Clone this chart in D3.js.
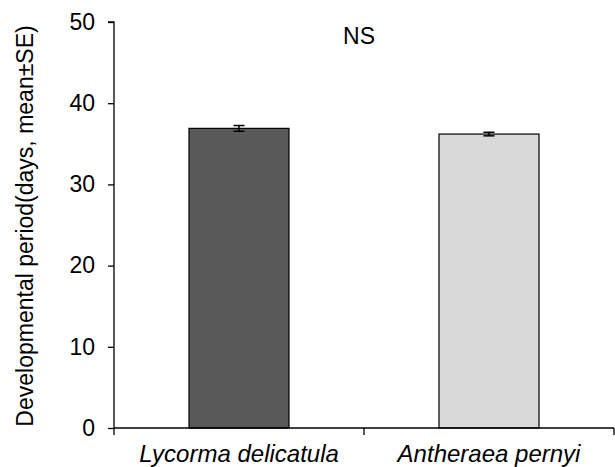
<!DOCTYPE html>
<html><head><meta charset="utf-8">
<script src="https://cdn.jsdelivr.net/npm/d3@7"></script>
<style>body{margin:0;background:#fff}svg{display:block}text{font-family:"Liberation Sans",Arial,sans-serif;fill:#000}</style>
</head><body>
<svg id="c" width="615" height="467"></svg>
<script>
const categories = ["Lycorma delicatula", "Antheraea pernyi"];
const means = [36.9, 36.2];
const se = [0.35, 0.22];
const fills = ["#595959", "#d9d9d9"];
const yTicks = [0, 10, 20, 30, 40, 50];
const yTitle = "Developmental period(days, mean±SE)";
const note = "NS";

const svg = d3.select("#c");
const x0 = 114, x1 = 614, yTop = 22, yBot = 428;
const x = d3.scaleBand().domain(categories).range([x0, x1]).padding(0);
const y = d3.scaleLinear().domain([0, 50]).range([yBot, yTop]);
const fs = 23;

// y axis
const ya = svg.append("g").attr("transform", `translate(${x0},0)`)
  .call(d3.axisLeft(y).tickValues(yTicks).tickSize(6).tickPadding(13).tickFormat(d3.format("d")));
ya.select(".domain").attr("stroke", "#000").attr("stroke-width", 1.3).attr("d", `M-6,${yTop}H0V${yBot}`);
ya.selectAll(".tick line").attr("stroke", "#000").attr("stroke-width", 1.3);
ya.selectAll(".tick text").style("font-size", fs + "px").attr("font-family", "Liberation Sans, Arial, sans-serif");

// bars
const bw = x.bandwidth() * 0.4;
svg.append("g").selectAll("rect").data(categories).join("rect")
  .attr("x", d => x(d) + x.bandwidth() / 2 - bw / 2)
  .attr("width", bw)
  .attr("y", (d, i) => y(means[i]))
  .attr("height", (d, i) => y(0) - y(means[i]))
  .attr("fill", (d, i) => fills[i])
  .attr("stroke", "#000").attr("stroke-width", 1.2);

// error bars
const eb = svg.append("g").attr("stroke", "#000").attr("stroke-width", 1.5);
categories.forEach((c, i) => {
  const cx = x(c) + x.bandwidth() / 2;
  const hi = y(means[i] + se[i]), lo = y(means[i] - se[i]);
  eb.append("line").attr("x1", cx).attr("x2", cx).attr("y1", hi).attr("y2", lo);
  eb.append("line").attr("x1", cx - 5.5).attr("x2", cx + 5.5).attr("y1", hi).attr("y2", hi);
  eb.append("line").attr("x1", cx - 5.5).attr("x2", cx + 5.5).attr("y1", lo).attr("y2", lo);
});

// x axis
const xa = svg.append("g").attr("transform", `translate(0,${yBot})`)
  .call(d3.axisBottom(x).tickSize(0).tickPadding(0));
xa.select(".domain").attr("stroke", "#000").attr("stroke-width", 1.3).attr("d", `M${x0},0H${x1}`);
xa.selectAll(".tick text").attr("y", 33.5).attr("dy", null).style("font-size", "24px").style("font-style", "italic")
  .attr("font-family", "Liberation Sans, Arial, sans-serif");
const bounds = [x0, x(categories[1]), x1];
xa.selectAll(".sep").data(bounds).join("line").attr("class", "sep")
  .attr("x1", d => d).attr("x2", d => d).attr("y1", 0).attr("y2", 7)
  .attr("stroke", "#000").attr("stroke-width", 1.3);

// y title
svg.append("text").attr("transform", `translate(33,${(yTop + yBot) / 2 + 1}) rotate(-90)`)
  .attr("text-anchor", "middle").style("font-size", fs + "px").text(yTitle);

// NS
svg.append("text").attr("x", 359).attr("y", 43.5).attr("text-anchor", "middle")
  .style("font-size", fs + "px").text(note);
</script>
</body></html>
